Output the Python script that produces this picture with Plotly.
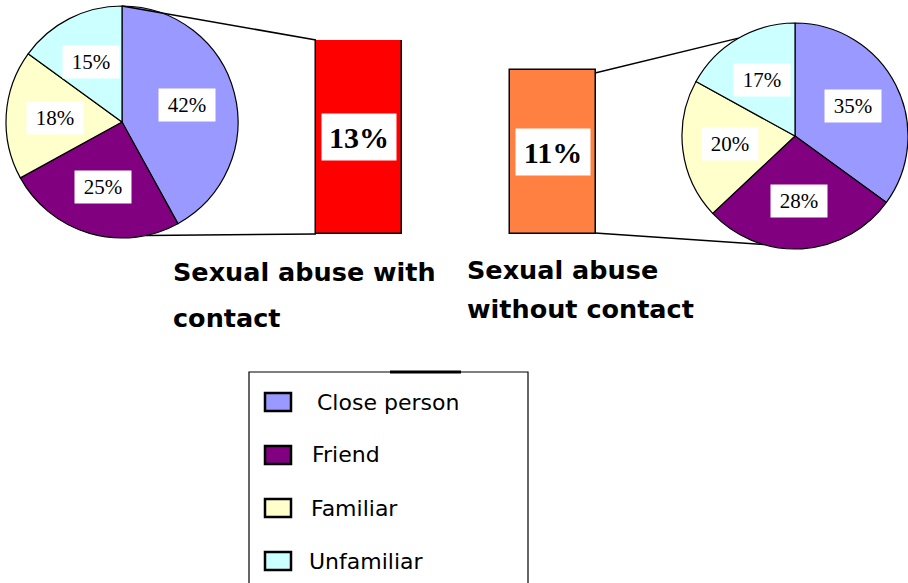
import math

import plotly.graph_objects as go

W, H = 908, 583

categories = ["Close person", "Friend", "Familiar", "Unfamiliar"]
contact_share = [42, 25, 18, 15]
noncontact_share = [35, 28, 20, 17]
abuse_types = ["Sexual abuse with contact", "Sexual abuse without contact"]
abuse_rate = [13, 11]

slice_colors = ["#9999FF", "#800080", "#FFFFCC", "#CCFFFF"]
bar_colors = ["#FF0000", "#FF8040"]

# pie geometry in pixels: (cx, cy, r)
left_pie = (122, 122, 116)
right_pie = (795, 136, 113)


def px(x):
    return x / W


def py(y):
    return 1 - y / H


def pie_domain(geom):
    cx, cy, r = geom
    return dict(x=[px(cx - r), px(cx + r)], y=[py(cy + r), py(cy - r)])


def rim_point(geom, deg):
    cx, cy, r = geom
    a = math.radians(deg)
    return cx + r * math.sin(a), cy - r * math.cos(a)


fig = go.Figure()

for geom, vals in [(left_pie, contact_share), (right_pie, noncontact_share)]:
    fig.add_trace(go.Pie(
        labels=categories,
        values=vals,
        domain=pie_domain(geom),
        sort=False,
        direction="clockwise",
        rotation=0,
        textinfo="none",
        hoverinfo="label+percent",
        marker=dict(colors=slice_colors, line=dict(color="#000000", width=1.2)),
        showlegend=False,
    ))

# bars share one baseline and scale
bar_top, bar_base = 40, 234
fig.add_trace(go.Bar(
    x=abuse_types,
    y=abuse_rate,
    width=0.44,
    marker=dict(color=bar_colors, line=dict(color="#000000", width=1.5)),
    showlegend=False,
    hoverinfo="x+y",
))

annotations = []
shapes = []

# pie slice labels
for geom, vals in [(left_pie, contact_share), (right_pie, noncontact_share)]:
    total = sum(vals)
    start = 0.0
    cx, cy, r = geom
    for v in vals:
        mid = (start + v / 2) / total * 360
        start += v
        a = math.radians(mid)
        lx = cx + 0.58 * r * math.sin(a)
        ly = cy - 0.58 * r * math.cos(a)
        annotations.append(dict(
            x=px(lx), y=py(ly), xref="paper", yref="paper",
            xanchor="center", yanchor="middle",
            text=f"{v}%", showarrow=False,
            font=dict(family="Liberation Serif", size=21, color="#000000"),
            bgcolor="#FFFFFF", width=54, height=30,
        ))

# bar labels
for name, v in zip(abuse_types, abuse_rate):
    annotations.append(dict(
        x=name, y=v / 2, xref="x", yref="y",
        xanchor="center", yanchor="middle",
        text=f"<b>{v}%</b>", showarrow=False,
        font=dict(family="Liberation Serif", size=30, color="#000000"),
        bgcolor="#FFFFFF", width=72, height=44,
    ))

# connector lines
line_style = dict(color="#000000", width=1.5)
lx0, ly0 = rim_point(left_pie, 0)
lx1, ly1 = rim_point(left_pie, 168)
rx0, ry0 = rim_point(right_pie, 330)
rx1, ry1 = rim_point(right_pie, 196)
for x0, y0, x1, y1 in [
    (lx0, ly0, 316, 40),
    (lx1, ly1, 316, 234),
    (595, 73, rx0, ry0),
    (595, 233, rx1, ry1),
]:
    shapes.append(dict(type="line", xref="paper", yref="paper",
                       x0=px(x0), y0=py(y0), x1=px(x1), y1=py(y1), line=line_style))

# group titles
title_font = dict(family="DejaVu Sans", size=25.5, color="#000000", weight="bold")
for text, x, y in [
    ("Sexual abuse with", 171, 272),
    ("contact", 171, 318),
    ("Sexual abuse", 465, 270),
    ("without contact", 465, 309),
]:
    annotations.append(dict(x=px(x), y=py(y), xref="paper", yref="paper",
                            text=text, showarrow=False, xanchor="left", yanchor="middle",
                            font=title_font))

# legend box
shapes.append(dict(type="rect", xref="paper", yref="paper",
                   x0=px(249), x1=px(528), y0=py(600), y1=py(372),
                   line=dict(color="#000000", width=1.2), fillcolor="#FFFFFF", layer="below"))
shapes.append(dict(type="line", xref="paper", yref="paper",
                   x0=px(390), x1=px(461), y0=py(372), y1=py(372),
                   line=dict(color="#000000", width=3)))
legend_rows = [402, 455, 508, 561]
legend_text_x = [315, 310, 309, 307]
for name, color, yc, tx in zip(categories, slice_colors, legend_rows, legend_text_x):
    shapes.append(dict(type="rect", xref="paper", yref="paper",
                       x0=px(265), x1=px(291), y0=py(yc + 9), y1=py(yc - 9),
                       line=dict(color="#000000", width=2.5), fillcolor=color))
    annotations.append(dict(x=px(tx), y=py(yc), xref="paper", yref="paper",
                            text=name, showarrow=False, xanchor="left", yanchor="middle",
                            font=dict(family="DejaVu Sans", size=22, color="#000000")))

fig.update_layout(
    width=W, height=H,
    margin=dict(l=0, r=0, t=0, b=0),
    paper_bgcolor="#FFFFFF",
    plot_bgcolor="rgba(0,0,0,0)",
    showlegend=False,
    xaxis=dict(domain=[px(262), px(650)], visible=False, fixedrange=True),
    yaxis=dict(domain=[py(bar_base), py(bar_top)], range=[0, abuse_rate[0]],
               visible=False, fixedrange=True),
    bargap=0,
    annotations=annotations,
    shapes=shapes,
)

fig.write_html("out.html", config={"displayModeBar": False},
               post_script="document.body.style.margin='0px';")
